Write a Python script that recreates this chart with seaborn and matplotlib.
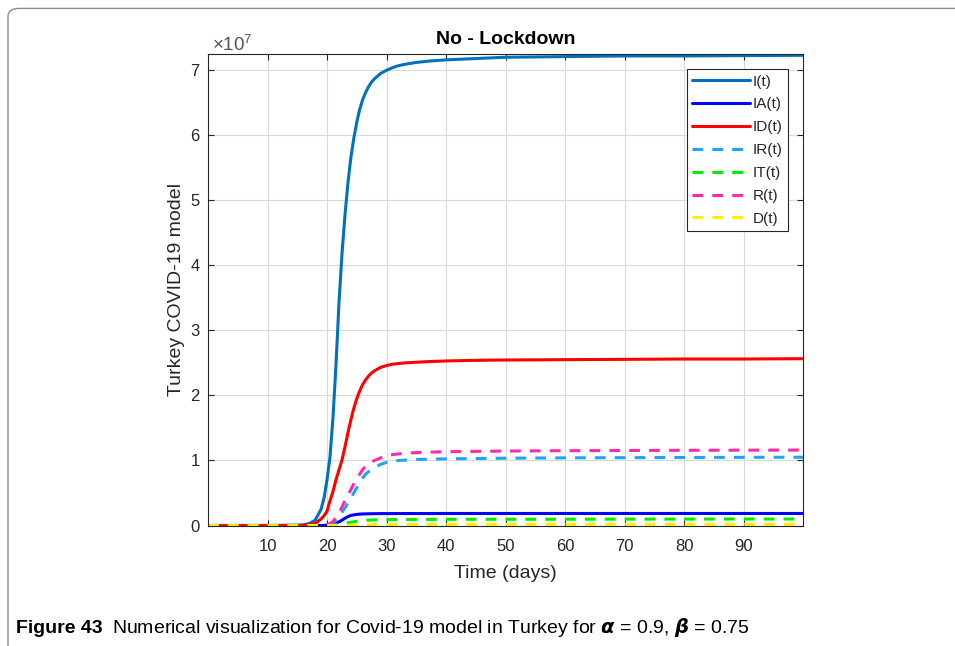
import matplotlib
matplotlib.use("Agg")
import matplotlib.pyplot as plt
import matplotlib.ticker as mticker
from matplotlib.patches import FancyBboxPatch
import numpy as np
import pandas as pd
import seaborn as sns

# values, in units of 1e7 people
days = [0, 5, 10, 15, 16, 17, 18, 19, 19.5, 20, 20.5, 21, 21.5, 22, 22.5, 23,
        23.5, 24, 24.5, 25, 25.5, 26, 26.5, 27, 27.5, 28, 29, 30, 31, 32, 33,
        35, 37, 40, 45, 50, 60, 70, 80, 90, 100]
I_t = [0, 0, 0, 0.005, 0.01, 0.03, 0.08, 0.25, 0.42, 0.7, 1.05, 1.65, 2.45,
       3.4, 4.15, 4.75, 5.25, 5.65, 5.95, 6.2, 6.4, 6.55, 6.66, 6.75, 6.82,
       6.87, 6.95, 7.0, 7.04, 7.07, 7.09, 7.12, 7.14, 7.16, 7.18, 7.2, 7.21,
       7.22, 7.22, 7.225, 7.23]
IA_t = [0, 0, 0, 0, 0, 0, 0, 0, 0.002, 0.005, 0.015, 0.025, 0.038, 0.055,
        0.08, 0.11, 0.135, 0.155, 0.163, 0.17, 0.175, 0.178, 0.179, 0.18,
        0.181, 0.182, 0.183, 0.183, 0.183, 0.184, 0.184, 0.184, 0.184, 0.185,
        0.185, 0.185, 0.185, 0.185, 0.185, 0.185, 0.185]
ID_t = [0, 0, 0, 0, 0.002, 0.01, 0.03, 0.1, 0.15, 0.22, 0.38, 0.52, 0.7,
        0.85, 1.0, 1.2, 1.42, 1.62, 1.8, 1.95, 2.07, 2.17, 2.24, 2.3, 2.345,
        2.38, 2.43, 2.46, 2.48, 2.49, 2.5, 2.51, 2.52, 2.53, 2.54, 2.545,
        2.55, 2.555, 2.56, 2.56, 2.565]
IR_t = [0, 0, 0, 0, 0, 0, 0, 0, 0.005, 0.01, 0.02, 0.04, 0.08, 0.13, 0.2,
        0.27, 0.34, 0.41, 0.5, 0.58, 0.66, 0.73, 0.79, 0.83, 0.86, 0.89,
        0.94, 0.97, 0.99, 1.0, 1.005, 1.015, 1.02, 1.025, 1.03, 1.035, 1.04,
        1.043, 1.046, 1.048, 1.05]
IT_t = [0, 0, 0, 0, 0, 0, 0, 0, 0, 0, 0.002, 0.005, 0.01, 0.015, 0.022,
        0.03, 0.04, 0.05, 0.058, 0.065, 0.07, 0.075, 0.079, 0.082, 0.085,
        0.087, 0.089, 0.09, 0.0905, 0.091, 0.092, 0.093, 0.094, 0.095, 0.096,
        0.096, 0.097, 0.098, 0.099, 0.1, 0.1]
R_t = [0, 0, 0, 0, 0, 0, 0, 0, 0.005, 0.01, 0.03, 0.06, 0.12, 0.19, 0.28,
       0.38, 0.46, 0.55, 0.64, 0.72, 0.79, 0.86, 0.91, 0.95, 0.98, 1.0, 1.04,
       1.07, 1.09, 1.1, 1.11, 1.12, 1.128, 1.135, 1.14, 1.145, 1.15, 1.153,
       1.156, 1.158, 1.16]
D_t = [0, 0, 0, 0, 0, 0, 0, 0, 0, 0, 0, 0, 0, 0, 0.001, 0.002, 0.004, 0.005,
       0.006, 0.007, 0.009, 0.01, 0.011, 0.012, 0.0125, 0.013, 0.014, 0.015,
       0.0155, 0.016, 0.0165, 0.017, 0.0175, 0.018, 0.018, 0.019, 0.019,
       0.02, 0.02, 0.02, 0.02]

labels = ["I(t)", "IA(t)", "ID(t)", "IR(t)", "IT(t)", "R(t)", "D(t)"]
series = [I_t, IA_t, ID_t, IR_t, IT_t, R_t, D_t]
colors = ["#0072BD", "#0000FF", "#FF0000", "#1FA3F5", "#00EE00", "#FF2AAA", "#FFF000"]
dashed = [False, False, False, True, True, True, True]
xticks = [10, 20, 30, 40, 50, 60, 70, 80, 90]
SCALE = 1e7

sns.set_style("ticks")
plt.rcParams["font.family"] = ["Liberation Sans", "DejaVu Sans"]
plt.rcParams["mathtext.fontset"] = "custom"
plt.rcParams["mathtext.rm"] = "Liberation Sans"

fig = plt.figure(figsize=(9.55, 6.46), dpi=100)
ax = fig.add_axes([208 / 955, 1 - 525.5 / 646, (803 - 208) / 955, (525.5 - 54) / 646])

dark = "#262626"
for lab, vals, col, dsh in zip(labels, series, colors, dashed):
    df = pd.DataFrame({"day": days, "val": np.array(vals) * SCALE})
    ls = (0, (3.5, 3)) if dsh else "-"
    sns.lineplot(data=df, x="day", y="val", ax=ax, color=col, linewidth=2.2,
                 linestyle=ls, label=lab, solid_joinstyle="round")

ax.set_xlim(0, 100)
ax.set_ylim(0, 7.25e7)
ax.set_xticks(xticks)
ax.yaxis.set_major_locator(mticker.MultipleLocator(SCALE))
ax.yaxis.set_major_formatter(mticker.FuncFormatter(lambda v, _: f"{v / SCALE:.0f}"))
ax.text(0.006, 0.998, r"$\times10^{7}$", transform=ax.transAxes, fontsize=13.5,
        color="#555555", ha="left", va="bottom")

ax.grid(True, color="#dadada", linewidth=0.8)
ax.tick_params(direction="in", top=True, right=True, length=4, width=0.8,
               labelsize=12, colors=dark)
ax.tick_params(axis="x", pad=10)
ax.tick_params(axis="y", pad=6)
for sp in ax.spines.values():
    sp.set_color(dark)
    sp.set_linewidth(0.8)

ax.set_title("No - Lockdown", fontsize=14, fontweight="bold", color="black", pad=7)
ax.set_xlabel("Time (days)", fontsize=14, color=dark, labelpad=8)
ax.set_ylabel("Turkey COVID-19 model", fontsize=14, color=dark, labelpad=4)

leg = ax.legend(loc="upper right", fontsize=11, frameon=True, fancybox=False,
                handlelength=3.8, handletextpad=0.15, labelspacing=0.58,
                borderaxespad=1.0, borderpad=0.35)
leg.get_frame().set_edgecolor(dark)
leg.get_frame().set_linewidth(0.8)
leg.get_frame().set_alpha(1)
for t in leg.get_texts():
    t.set_color(dark)

# framed page border like the journal figure box
border = FancyBboxPatch((8 / 955, -0.05), 1.05, 0.95 + 0.05 + 0.037,
                        boxstyle="round,pad=0,rounding_size=0.012",
                        transform=fig.transFigure, fill=False,
                        edgecolor="#8c8c8c", linewidth=1.0)
fig.patches.append(border)

cap_font = ["Liberation Sans", "DejaVu Sans"]
t1 = fig.text(16 / 955, 1 - 633 / 646, "Figure 43", fontsize=14, fontweight="bold",
              family=cap_font, color="black")
fig.canvas.draw()
bb = t1.get_window_extent()
fig.text((bb.x1 + 9) / 955, 1 - 633 / 646,
         r"Numerical visualization for Covid-19 model in Turkey for "
         r"$\boldsymbol{\alpha}$ = 0.9, $\boldsymbol{\beta}$ = 0.75",
         fontsize=14, family=cap_font, color="black")

fig.savefig("out.png", dpi=100)
